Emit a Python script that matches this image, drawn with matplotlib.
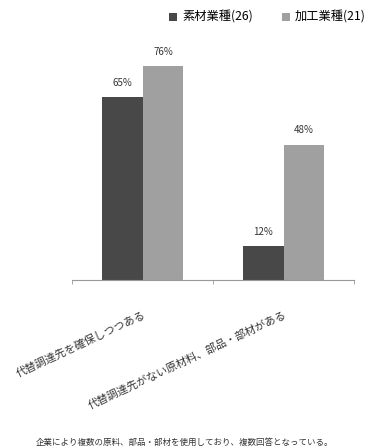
import matplotlib
matplotlib.use("Agg")
import matplotlib.pyplot as plt
import numpy as np

plt.rcParams['font.family'] = ['Noto Sans CJK JP', 'DejaVu Sans']

categories = ["代替調達先を確保しつつある", "代替調達先がない原材料、部品・部材がある"]
series_names = ["素材業種(26)", "加工業種(21)"]
material = [65, 12]
processing = [76, 48]
colors = ["#484848", "#a0a0a0"]
footnote = "企業により複数の原料、部品・部材を使用しており、複数回答となっている。"

W, H = 369, 448
fig = plt.figure(figsize=(W / 100, H / 100), dpi=100)
ax = fig.add_axes([72 / W, 168 / H, 282 / W, 253 / H])

x = np.arange(len(categories))
width = 0.29
b1 = ax.bar(x - width / 2, material, width, color=colors[0], label=series_names[0])
b2 = ax.bar(x + width / 2, processing, width, color=colors[1], label=series_names[1])

for bars, vals in ((b1, material), (b2, processing)):
    for rect, v in zip(bars, vals):
        ax.annotate(f"{v}%", (rect.get_x() + rect.get_width() / 2, v),
                    xytext=(0, 7), textcoords="offset points",
                    ha="center", va="bottom", fontsize=7, color="#333333")

ax.set_xlim(-0.5, len(categories) - 0.5)
ax.set_ylim(0, 90)
ax.set_yticks([])
for s in ("top", "right", "left"):
    ax.spines[s].set_visible(False)
ax.spines["bottom"].set_color("#999999")
ax.spines["bottom"].set_linewidth(0.8)

ax.set_xticks(np.arange(-0.5, len(categories)), minor=True)
ax.set_xticks(x)
ax.tick_params(axis="x", which="major", length=0, pad=21)
ax.tick_params(axis="x", which="minor", length=3, color="#999999")
ax.set_xticklabels(categories, rotation=25, ha="right", va="top",
                   rotation_mode="anchor", fontsize=7.8, color="#333333")

fig.legend(handles=[b1, b2], labels=series_names, loc="upper right",
           bbox_to_anchor=(366 / W, 1 - 11 / H), ncol=2, frameon=False,
           borderpad=0, borderaxespad=0,
           fontsize=8.8, handlelength=0.65, handleheight=0.65,
           handletextpad=0.4, columnspacing=2.4)

fig.text(0.5, 1 - 442 / H, footnote, ha="center", va="center",
         fontsize=6.1, color="#333333")

fig.savefig("out.png", dpi=100)
